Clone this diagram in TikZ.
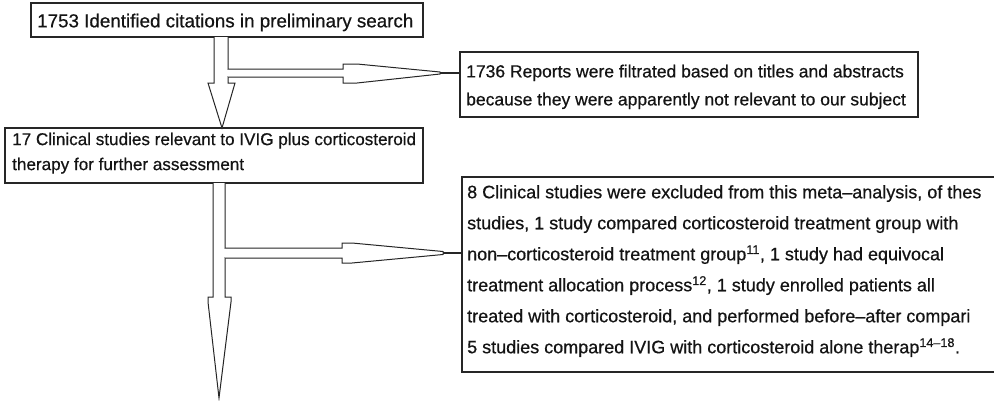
\documentclass[tikz,border=0pt]{standalone}
\usepackage{fontspec}
\setmainfont{Liberation Sans}[FakeBold=0.6]
\tikzset{
  box/.style={draw=black!85, line width=1.2pt, inner sep=0pt, outer sep=0pt, anchor=north west},
  txt/.style={inner sep=0pt, anchor=north west, align=left, text=black!92},
  arr/.style={draw=black!85, line width=1pt, fill=white, line join=miter},
  conn/.style={draw=black!85, line width=1.2pt}
}
\begin{document}
\begin{tikzpicture}[x=1pt,y=-1pt]
\useasboundingbox (0,0) rectangle (994,400);
\clip (0,0) rectangle (994,400);
% boxes
\node[box, minimum width=392pt, minimum height=34pt] (b1) at (31,3) {};
\node[box, minimum width=458pt, minimum height=65pt] (b2) at (460,52) {};
\node[box, minimum width=418pt, minimum height=55pt] (b3) at (5,128) {};
\node[box, minimum width=560pt, minimum height=195pt] (b4) at (462,177) {};
% texts
\node[txt, font=\fontsize{18.8}{22}\selectfont] (t1) at (37,13.5) {1753 Identified citations in preliminary search};
\node[txt, font=\fontsize{17.5}{28}\selectfont] (t2) at (466,64.5) {1736 Reports were filtrated based on titles and abstracts\\because they were apparently not relevant to our subject};
\node[txt, font=\fontsize{17.1}{25}\selectfont] (t3) at (12,132.5) {17 Clinical studies relevant to IVIG plus corticosteroid\\therapy for further assessment};
\node[txt, font=\fontsize{18}{31}\selectfont] (t4) at (467,185) {8 Clinical studies were excluded from this meta–analysis, of thes\\studies, 1 study compared corticosteroid treatment group with\\non–corticosteroid treatment group\textsuperscript{11}, 1 study had equivocal\\treatment allocation process\textsuperscript{12}, 1 study enrolled patients all\\treated with corticosteroid, and performed before–after compari\\5 studies compared IVIG with corticosteroid alone therap\textsuperscript{14–18}.};
% first block arrow: b1 -> b3
\draw[arr] (214,0 |- b1.south) -- (214,83) -- (208,83) -- (222,0 |- b3.north) -- (235,83) -- (228,83) -- (228,0 |- b1.south);
\fill[white] (226,69.6) rectangle (230,76.4);
\draw[arr] (228,69) -- (343,69) -- (343,64) -- (357,64) -- (440,72) -- (440,74) -- (357,83) -- (343,83) -- (343,77) -- (228,77);
\coordinate (tipA) at (440,73);
\draw[conn] (tipA) -- (tipA -| b2.west);
% second block arrow from b3 downward
\draw[arr] (213,0 |- b3.south) -- (213,297) -- (208,297) -- (208,302) -- (219,398) -- (231,302) -- (231,297) -- (225,297) -- (225,0 |- b3.south);
\fill[white] (223,248.6) rectangle (227,257.4);
\draw[arr] (225,248) -- (342,248) -- (342,243) -- (352,243) -- (443,251.5) -- (443,254.5) -- (352,263) -- (342,263) -- (342,258) -- (225,258);
\coordinate (tipB) at (443,253);
\draw[conn] (tipB) -- (tipB -| b4.west);
\end{tikzpicture}
\end{document}
